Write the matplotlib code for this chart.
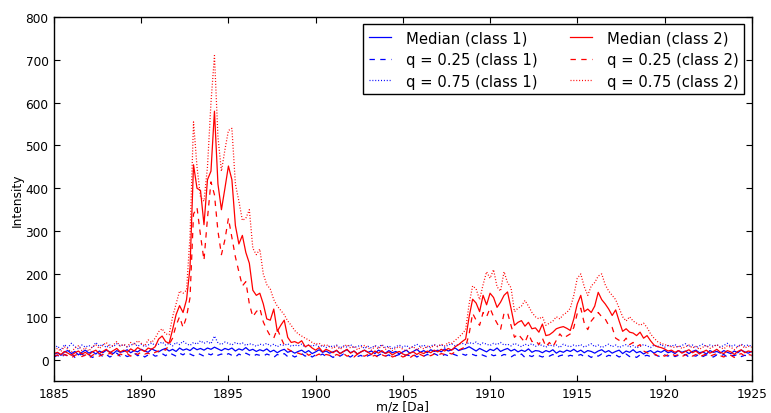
import numpy as np
import matplotlib
matplotlib.use("Agg")
import matplotlib.pyplot as plt

# m/z sampling grid (Da), 0.2 Da steps from 1885 to 1925
mz = np.round(np.arange(1885.0, 1925.01, 0.2), 1)

# class 1 (blue)
med1 = [12, 16, 10, 18, 21, 14, 19, 11, 17, 22,
        15, 19, 13, 20, 16, 22, 18, 14, 21, 17,
        19, 23, 16, 21, 18, 24, 20, 17, 25, 21,
        18, 23, 26, 20, 24, 19, 27, 22, 25, 21,
        28, 23, 26, 22, 27, 24, 29, 25, 21, 26,
        23, 27, 20, 25, 22, 28, 21, 24, 19, 23,
        20, 25, 18, 22, 16, 21, 24, 17, 20, 15,
        19, 22, 16, 21, 14, 18, 23, 17, 20, 15,
        18, 21, 14, 19, 23, 16, 20, 13, 18, 22,
        17, 20, 14, 22, 18, 15, 21, 16, 19, 13,
        18, 22, 15, 19, 24, 17, 21, 16, 23, 19,
        22, 18, 25, 20, 23, 27, 21, 24, 26, 30,
        25, 20, 26, 22, 18, 24, 21, 27, 19, 23,
        26, 20, 24, 18, 22, 19, 25, 17, 21, 20,
        16, 21, 18, 23, 15, 20, 17, 22, 19, 24,
        18, 22, 16, 21, 19, 15, 20, 23, 17, 21,
        15, 19, 22, 14, 20, 17, 23, 16, 19, 13,
        18, 21, 15, 20, 17, 22, 16, 19, 14, 21,
        17, 20, 14, 19, 22, 16, 18, 13, 21, 17,
        19, 15, 21, 17, 14, 20, 16, 22, 18, 15,
        19]
lo1 = [6, 10, 4, 12, 8, 14, 5, 9, 13, 7,
       11, 5, 9, 14, 7, 12, 6, 10, 15, 8,
       12, 7, 10, 15, 9, 13, 6, 11, 14, 8,
       10, 14, 9, 16, 12, 8, 15, 11, 17, 13,
       9, 15, 12, 8, 14, 11, 16, 10, 13, 9,
       14, 10, 6, 13, 9, 15, 11, 7, 12, 10,
       8, 13, 10, 5, 12, 9, 14, 7, 11, 6,
       10, 14, 8, 12, 6, 11, 9, 13, 7, 10,
       5, 11, 8, 13, 9, 6, 12, 7, 10, 4,
       9, 12, 6, 10, 14, 8, 11, 5, 9, 12,
       7, 11, 9, 13, 6, 10, 8, 12, 9, 14,
       10, 7, 12, 9, 14, 11, 8, 13, 10, 15,
       12, 9, 14, 10, 7, 13, 9, 11, 8, 12,
       10, 6, 11, 8, 13, 5, 10, 7, 12, 9,
       6, 10, 8, 12, 5, 9, 11, 7, 10, 8,
       9, 12, 7, 10, 5, 11, 8, 13, 6, 10,
       8, 11, 6, 10, 13, 7, 9, 5, 11, 8,
       10, 7, 12, 9, 6, 11, 8, 13, 7, 10,
       9, 12, 6, 10, 8, 13, 7, 11, 9, 6,
       11, 8, 12, 6, 10, 9, 13, 7, 10, 8,
       9]
hi1 = [26, 32, 22, 35, 28, 38, 30, 25, 34, 29,
       33, 27, 40, 31, 36, 28, 34, 30, 37, 32,
       35, 29, 33, 38, 31, 36, 30, 34, 39, 33,
       36, 41, 34, 38, 32, 40, 35, 43, 37, 33,
       40, 36, 44, 38, 42, 37, 55, 39, 35, 41,
       38, 34, 40, 36, 39, 33, 37, 35, 31, 36,
       34, 38, 32, 36, 30, 35, 33, 37, 31, 34,
       32, 36, 29, 34, 31, 35, 30, 33, 28, 32,
       30, 34, 27, 32, 29, 35, 28, 31, 33, 26,
       31, 27, 33, 29, 35, 28, 32, 26, 30, 34,
       29, 33, 27, 31, 36, 30, 34, 28, 32, 35,
       31, 35, 29, 34, 37, 32, 36, 38, 35, 40,
       37, 41, 34, 39, 36, 33, 38, 35, 40, 34,
       36, 32, 38, 34, 30, 36, 33, 37, 31, 35,
       33, 29, 35, 31, 34, 28, 36, 32, 30, 34,
       31, 35, 29, 33, 37, 30, 34, 28, 32, 36,
       30, 34, 28, 32, 35, 29, 33, 27, 31, 35,
       32, 28, 34, 30, 36, 29, 33, 31, 35, 29,
       33, 37, 30, 34, 28, 32, 36, 30, 34, 31,
       35, 29, 33, 38, 31, 34, 30, 36, 32, 34,
       31]

# class 2 (red)
med2 = [14, 17, 12, 19, 15, 10, 16, 20, 13, 17,
        11, 18, 22, 14, 19, 24, 16, 21, 26, 18,
        22, 17, 25, 20, 28, 23, 19, 27, 24, 30,
        48, 55, 42, 38, 70, 105, 126, 110, 140, 215,
        455, 400, 395, 315, 420, 440, 580, 410, 350, 400,
        452, 420, 313, 270, 290, 250, 225, 162, 150, 155,
        130, 95, 92, 118, 66, 80, 92, 52, 40, 42,
        38, 44, 30, 34, 27, 22, 28, 18, 24, 20,
        16, 22, 14, 19, 24, 15, 20, 13, 18, 22,
        17, 12, 20, 15, 21, 14, 18, 11, 16, 19,
        13, 10, 15, 18, 12, 17, 14, 20, 16, 22,
        18, 24, 20, 26, 22, 30, 35, 42, 48, 100,
        141, 132, 112, 150, 128, 155, 145, 122, 134, 150,
        158, 120, 80, 87, 91, 78, 87, 72, 74, 64,
        83, 56, 58, 64, 72, 75, 77, 73, 68, 95,
        130, 150, 112, 118, 110, 125, 157, 140, 130, 118,
        103, 116, 90, 66, 72, 64, 62, 56, 64, 50,
        56, 44, 34, 30, 28, 25, 20, 22, 17, 21,
        15, 19, 23, 16, 20, 13, 18, 22, 15, 19,
        24, 17, 14, 21, 18, 12, 19, 23, 16, 20,
        18]
lo2 = [8, 11, 5, 12, 9, 4, 10, 13, 7, 11,
       3, 10, 14, 8, 12, 9, 15, 11, 7, 13,
       10, 14, 8, 16, 12, 18, 13, 15, 11, 17,
       20, 25, 22, 35, 50, 80, 100, 75, 100, 145,
       340, 355, 290, 232, 330, 415, 385, 300, 245, 280,
       330, 285, 240, 205, 172, 182, 130, 100, 112, 120,
       88, 70, 55, 50, 72, 52, 34, 25, 20, 18,
       15, 12, 17, 10, 14, 9, 13, 8, 12, 10,
       7, 12, 9, 14, 8, 11, 6, 13, 10, 8,
       12, 7, 10, 5, 11, 8, 13, 6, 9, 11,
       6, 9, 4, 10, 7, 12, 8, 11, 9, 13,
       10, 14, 12, 16, 13, 18, 22, 26, 30, 60,
       108, 92, 80, 110, 100, 120, 100, 85, 70, 108,
       110, 80, 52, 60, 50, 40, 60, 42, 45, 35,
       50, 30, 40, 30, 45, 60, 50, 55, 60, 75,
       108, 120, 85, 70, 90, 100, 110, 100, 95, 80,
       75, 50, 45, 40, 50, 35, 40, 30, 35, 20,
       16, 12, 14, 9, 12, 8, 11, 14, 9, 12,
       7, 11, 14, 8, 12, 6, 10, 13, 8, 11,
       14, 9, 6, 12, 10, 5, 11, 14, 8, 12,
       10]
hi2 = [22, 26, 19, 30, 24, 18, 27, 32, 21, 28,
       20, 30, 35, 26, 33, 40, 28, 34, 42, 31,
       36, 30, 40, 34, 44, 38, 32, 46, 40, 50,
       65, 72, 60, 58, 100, 130, 160, 155, 162, 290,
       555, 450, 380, 370, 450, 600, 710, 520, 440, 490,
       535, 540, 410, 370, 325, 330, 350, 260, 245, 258,
       200, 175, 165, 140, 125, 115, 105, 90, 80, 68,
       60, 55, 50, 46, 40, 36, 38, 32, 35, 30,
       26, 32, 24, 30, 35, 27, 31, 23, 29, 33,
       28, 22, 31, 25, 33, 24, 29, 21, 27, 30,
       24, 20, 27, 30, 22, 29, 25, 32, 27, 34,
       30, 36, 32, 40, 38, 45, 52, 60, 70, 130,
       172, 165, 140, 175, 205, 190, 210, 170, 160, 205,
       180, 168, 112, 120, 125, 138, 125, 110, 100, 95,
       100, 80, 85, 90, 100, 95, 105, 110, 120, 150,
       190, 200, 170, 150, 172, 180, 195, 200, 175, 160,
       150, 140, 120, 100, 90, 100, 90, 85, 80, 85,
       75, 60, 50, 42, 38, 35, 33, 30, 28, 32,
       26, 30, 34, 27, 31, 24, 29, 33, 26, 30,
       35, 28, 25, 32, 29, 23, 30, 34, 27, 31,
       29]

labels = ["Median (class 1)", "q = 0.25 (class 1)", "q = 0.75 (class 1)",
          "Median (class 2)", "q = 0.25 (class 2)", "q = 0.75 (class 2)"]

dash = (0, (4.3, 4.3))
dot = (0, (0.8, 1.5))

fig = plt.figure(figsize=(7.71, 4.14), dpi=100, facecolor="white")
ax = fig.add_axes([0.070, 0.0773, 0.905, 0.8792])

lw = 0.9
ax.plot(mz, med1, color="b", lw=lw, label=labels[0])
ax.plot(mz, lo1, color="b", lw=lw, ls=dash, label=labels[1])
ax.plot(mz, hi1, color="b", lw=lw, ls=dot, label=labels[2])
ax.plot(mz, med2, color="r", lw=lw, label=labels[3])
ax.plot(mz, lo2, color="r", lw=lw, ls=dash, label=labels[4])
ax.plot(mz, hi2, color="r", lw=lw, ls=dot, label=labels[5])

ax.set_xlim(1885, 1925)
ax.set_ylim(-50, 800)
ax.set_xticks(np.arange(1885, 1926, 5))
ax.set_yticks(np.arange(0, 801, 100))
ax.tick_params(direction="in", top=True, right=True, length=4, width=0.8,
               labelsize=8.7, pad=4)
for s in ax.spines.values():
    s.set_linewidth(1.0)

ax.set_xlabel("m/z [Da]", fontsize=8.8, labelpad=0)
ax.set_ylabel("Intensity", fontsize=8.8, labelpad=1.5)

leg = ax.legend(loc="upper right", ncol=2, fontsize=10.6, handlelength=1.5,
                handletextpad=1.0, columnspacing=2.2, labelspacing=0.45,
                borderpad=0.4, borderaxespad=0.5, fancybox=False, framealpha=1)
leg.get_frame().set_edgecolor("black")
leg.get_frame().set_linewidth(1.0)

fig.savefig("out.png", dpi=100, facecolor="white")
